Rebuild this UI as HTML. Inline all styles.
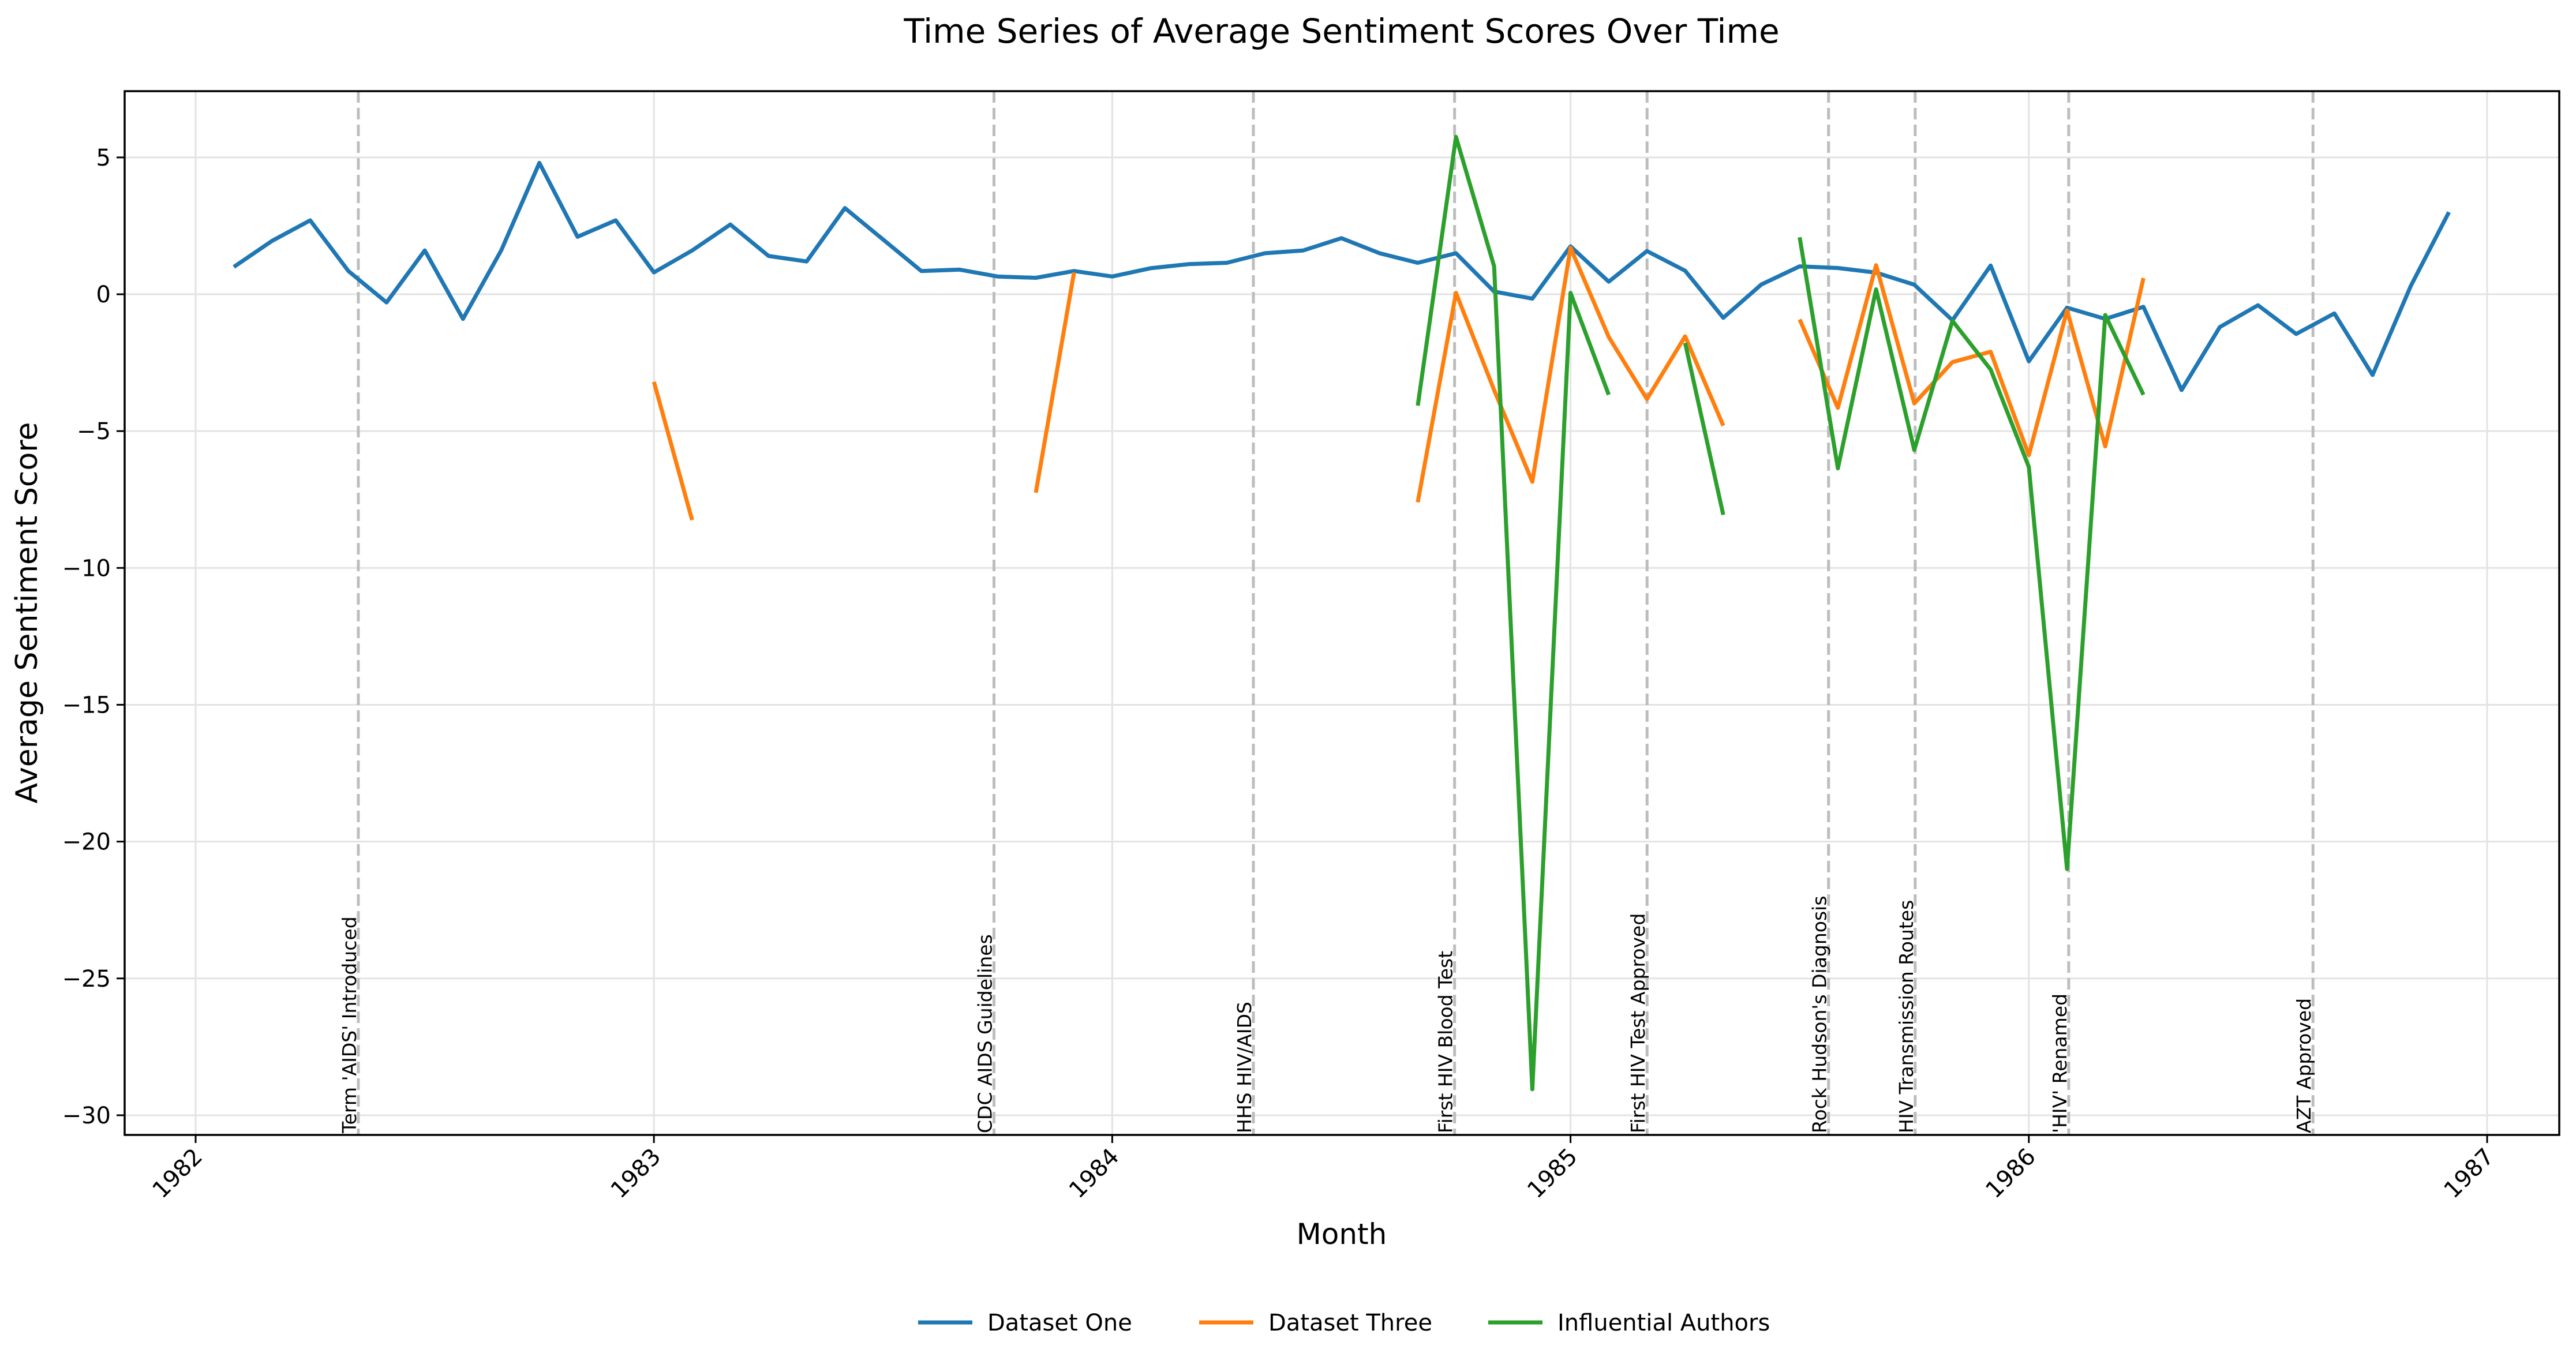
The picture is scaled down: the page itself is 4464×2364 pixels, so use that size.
<!DOCTYPE html>
<html><head><meta charset="utf-8">
<style>
html,body{margin:0;padding:0;background:#fff;}
svg{display:block;font-family:"DejaVu Sans","Liberation Sans",sans-serif;}
</style></head>
<body>
<svg id="chart" width="4464" height="2364" viewBox="0 0 4464 2364" xmlns="http://www.w3.org/2000/svg">
<rect x="0" y="0" width="4464" height="2364" fill="#fff"/>
<text x="2325" y="74" font-size="58" text-anchor="middle" fill="#000">Time Series of Average Sentiment Scores Over Time</text>
<g id="grid"></g>
<g id="events"></g>
<g id="series"></g>
<rect x="216" y="158" width="4219" height="1809" fill="none" stroke="#000" stroke-width="3.5"/>
<g id="axes"></g>
<text x="0" y="0" font-size="52" text-anchor="middle" transform="translate(64,1062) rotate(-90)">Average Sentiment Score</text>
<text x="2325" y="2156" font-size="50" text-anchor="middle">Month</text>
<g id="legend"></g>
</svg>
<script>
// ---- data ----
const seriesNames = ["Dataset One", "Dataset Three", "Influential Authors"];
const seriesColors = ["#1f77b4", "#ff7f0e", "#2ca02c"];
const blueMonths = ["1982-02","1982-03","1982-04","1982-05","1982-06","1982-07","1982-08","1982-09","1982-10","1982-11","1982-12",
"1983-01","1983-02","1983-03","1983-04","1983-05","1983-06","1983-07","1983-08","1983-09","1983-10","1983-11","1983-12",
"1984-01","1984-02","1984-03","1984-04","1984-05","1984-06","1984-07","1984-08","1984-09","1984-10","1984-11","1984-12",
"1985-01","1985-02","1985-03","1985-04","1985-05","1985-06","1985-07","1985-08","1985-09","1985-10","1985-11","1985-12",
"1986-01","1986-02","1986-03","1986-04","1986-05","1986-06","1986-07","1986-08","1986-09","1986-10","1986-11","1986-12"];
const blueValues = [1.0,1.95,2.7,0.85,-0.3,1.6,-0.9,1.6,4.8,2.1,2.7,
0.8,1.6,2.55,1.4,1.2,3.15,2.0,0.85,0.9,0.65,0.6,0.85,
0.65,0.95,1.1,1.15,1.5,1.6,2.05,1.5,1.15,1.5,0.1,-0.16,
1.75,0.46,1.58,0.86,-0.86,0.36,1.02,0.96,0.79,0.35,-0.95,1.05,
-2.45,-0.49,-0.9,-0.46,-3.5,-1.2,-0.4,-1.45,-0.7,-2.95,0.3,3.0];
const orangeMonths = ["1983-01","1983-02","1983-03","1983-10","1983-11","1983-12","1984-08",
"1984-09","1984-10","1984-11","1984-12","1985-01","1985-02","1985-03","1985-04","1985-05","1985-06",
"1985-07","1985-08","1985-09","1985-10","1985-11","1985-12","1986-01","1986-02","1986-03","1986-04"];
const orangeValues = [-3.2,-8.25,null,null,-7.25,0.8,null,
-7.6,0.05,-3.5,-6.85,1.7,-1.56,-3.83,-1.54,-4.8,null,
-0.92,-4.15,1.06,-3.99,-2.48,-2.1,-5.88,-0.59,-5.56,0.59];
const greenMonths = ["1984-09","1984-10","1984-11","1984-12","1985-01","1985-02","1985-03","1985-04","1985-05","1985-06",
"1985-07","1985-08","1985-09","1985-10","1985-11","1985-12","1986-01","1986-02","1986-03","1986-04"];
const greenValues = [-4.07,5.75,1.02,-29.05,0.05,-3.67,null,-1.78,-8.06,null,
2.08,-6.36,0.18,-5.69,-0.97,-2.75,-6.31,-21.0,-0.76,-3.67];
const eventLabels = ["Term 'AIDS' Introduced","CDC AIDS Guidelines","HHS HIV/AIDS","First HIV Blood Test","First HIV Test Approved","Rock Hudson's Diagnosis","HIV Transmission Routes","'HIV' Renamed","AZT Approved"];
const eventDates = [1982.355,1983.742,1984.308,1984.747,1985.167,1985.563,1985.752,1986.087,1986.62];
const xTicks = [1982,1983,1984,1985,1986,1987];
const yTicks = [5,0,-5,-10,-15,-20,-25,-30];

// ---- scales ----
const X0=216, X1=4435, Y0=158, Y1=1967;
function xs(t){ return 339 + (t-1982)*794.2; }
function ys(v){ return 510 - v*47.43; }
function monthToT(s){ const p=s.split("-"); return +p[0] + (+p[1]-1)/12; }
const NS="http://www.w3.org/2000/svg";
function mk(tag, attrs, parent){ const e=document.createElementNS(NS,tag); for(const k in attrs) e.setAttribute(k,attrs[k]); parent.appendChild(e); return e; }

const grid=document.getElementById("grid"), axes=document.getElementById("axes");
xTicks.forEach(t=>{
  const x=xs(t);
  const g=mk("line",{x1:x,x2:x,y1:Y0,y2:Y1,stroke:"#e3e3e3","stroke-width":3},grid);
  
  
  const tk=mk("line",{x1:x,x2:x,y1:Y1,y2:Y1+14,stroke:"#000","stroke-width":3},axes);
  
  
  const lb=mk("text",{x:0,y:0,"font-size":40,"text-anchor":"end",transform:`translate(${x+14},${Y1+40}) rotate(-45)`},axes);
  
  
  lb.textContent=String(t);
});
yTicks.forEach(v=>{
  const y=ys(v);
  const g=mk("line",{x1:X0,x2:X1,y1:y,y2:y,stroke:"#e3e3e3","stroke-width":3},grid);
  
  
  const tk=mk("line",{x1:X0-14,x2:X0,y1:y,y2:y,stroke:"#000","stroke-width":3},axes);
  
  
  const lb=mk("text",{x:X0-24,y:y+14,"font-size":40,"text-anchor":"end"},axes);
  
  
  lb.textContent=(v<0?"\u2212"+Math.abs(v):String(v));
});

const ev=document.getElementById("events");
eventDates.forEach((d,i)=>{
  const x=xs(d);
  const l=mk("line",{x1:x,x2:x,y1:Y0,y2:Y1,stroke:"#bdbdbd","stroke-width":5,"stroke-dasharray":"20 9"},ev);
  
  
  const t=mk("text",{x:0,y:0,"font-size":33,"text-anchor":"start",transform:`translate(${x-4},${Y1-3}) rotate(-90)`},ev);
  
  
  t.textContent=eventLabels[i];
});

const ser=document.getElementById("series");
function drawSeries(months, values, color, name){
  let segs=[], cur=[];
  months.forEach((m,i)=>{
    if(values[i]===null){ if(cur.length) segs.push(cur); cur=[]; }
    else cur.push([xs(monthToT(m)), ys(values[i])]);
  });
  if(cur.length) segs.push(cur);
  segs.forEach(s=>{
    const p=mk("polyline",{points:s.map(q=>q[0].toFixed(1)+","+q[1].toFixed(1)).join(" "),fill:"none",stroke:color,"stroke-width":7,"stroke-linejoin":"round","stroke-linecap":"butt"},ser);
    
    
  });
}
drawSeries(blueMonths, blueValues, seriesColors[0], "dataset-one");
drawSeries(orangeMonths, orangeValues, seriesColors[1], "dataset-three");
drawSeries(greenMonths, greenValues, seriesColors[2], "influential-authors");

const lg=document.getElementById("legend");
const legX=[1591,2078,2579];
seriesNames.forEach((n,i)=>{
  const g=mk("g",{},lg);
  
  
  mk("line",{x1:legX[i],x2:legX[i]+94,y1:2292,y2:2292,stroke:seriesColors[i],"stroke-width":7},g);
  const t=mk("text",{x:legX[i]+120,y:2306,"font-size":40},g);
  
  
  t.textContent=n;
});
</script>
</body></html>
